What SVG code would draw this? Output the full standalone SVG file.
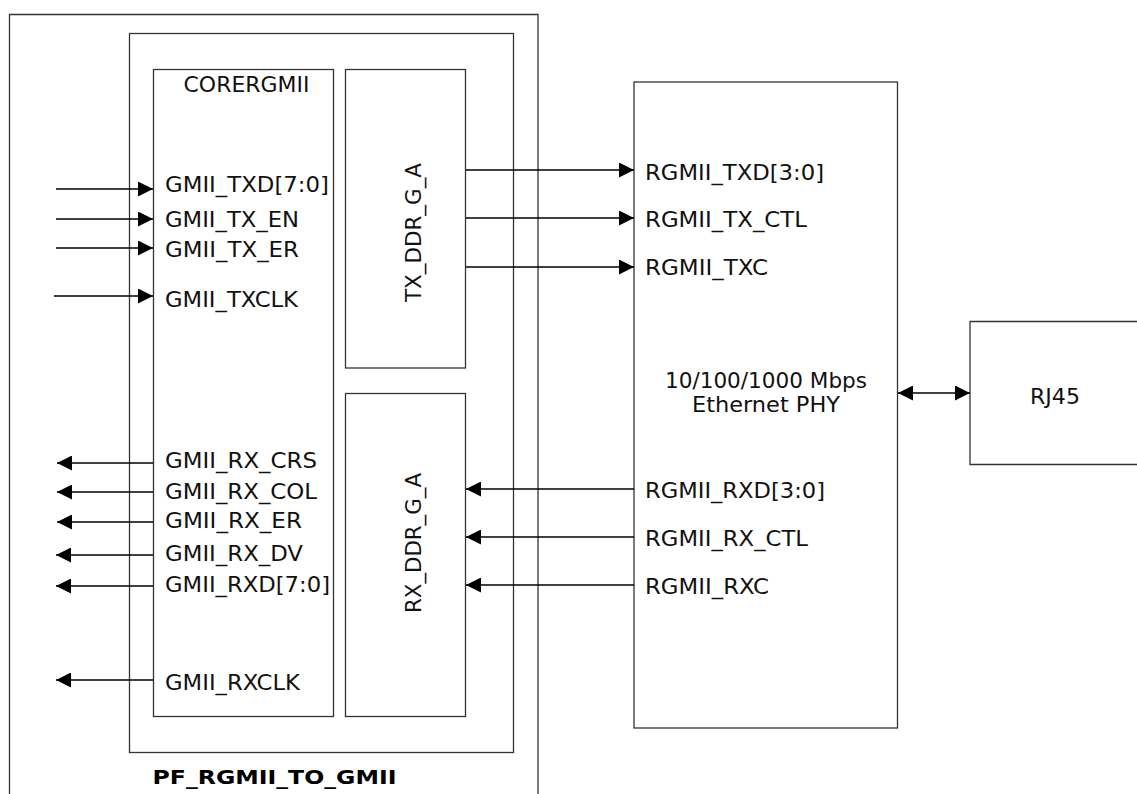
<svg xmlns="http://www.w3.org/2000/svg" width="1137" height="794" viewBox="0 0 1137 794">
<defs>
<style>
.box{fill:none;stroke:#333;stroke-width:1.3}
.wire{fill:none;stroke:#000;stroke-width:1.3}
.t{font-family:"DejaVu Sans","Liberation Sans",sans-serif;font-size:21px;fill:#111}
.tb{font-family:"DejaVu Sans","Liberation Sans",sans-serif;font-size:19px;font-weight:bold;fill:#000}
</style>
<marker id="ah" viewBox="0 0 15 15" refX="15" refY="7.5" markerWidth="15" markerHeight="15" markerUnits="userSpaceOnUse" orient="auto-start-reverse">
<path d="M0,0 L15,7.5 L0,15 z" fill="#000"/>
</marker>
</defs>
<rect width="1137" height="794" fill="#fff"/>

<g id="outer">
<path class="box" d="M9.5,800 V14.5 H538 V800"/>
</g>

<g id="pf_rgmii_to_gmii">
<rect class="box" x="129.5" y="33.5" width="384" height="719"/>
<text class="tb" x="152.5" y="784" textLength="244" lengthAdjust="spacingAndGlyphs">PF_RGMII_TO_GMII</text>
</g>

<g id="corergmii">
<rect class="box" x="153.5" y="69.5" width="180" height="647"/>
<text class="t" x="183.5" y="92" textLength="126" lengthAdjust="spacingAndGlyphs">CORERGMII</text>
<text class="t" x="165" y="191.5" textLength="164" lengthAdjust="spacingAndGlyphs">GMII_TXD[7:0]</text>
<text class="t" x="165" y="226.5" textLength="134" lengthAdjust="spacingAndGlyphs">GMII_TX_EN</text>
<text class="t" x="165" y="257" textLength="134" lengthAdjust="spacingAndGlyphs">GMII_TX_ER</text>
<text class="t" x="165" y="306.5" textLength="133" lengthAdjust="spacingAndGlyphs">GMII_TXCLK</text>
<text class="t" x="165" y="467.5" textLength="152" lengthAdjust="spacingAndGlyphs">GMII_RX_CRS</text>
<text class="t" x="165" y="498.5" textLength="152" lengthAdjust="spacingAndGlyphs">GMII_RX_COL</text>
<text class="t" x="165" y="527.5" textLength="137" lengthAdjust="spacingAndGlyphs">GMII_RX_ER</text>
<text class="t" x="165" y="560.5" textLength="138" lengthAdjust="spacingAndGlyphs">GMII_RX_DV</text>
<text class="t" x="165" y="591.5" textLength="165" lengthAdjust="spacingAndGlyphs">GMII_RXD[7:0]</text>
<text class="t" x="165" y="689.5" textLength="135" lengthAdjust="spacingAndGlyphs">GMII_RXCLK</text>
</g>

<g id="tx_ddr_g_a">
<rect class="box" x="345.5" y="69.5" width="120" height="298.5"/>
<text class="t" x="421" y="302" transform="rotate(-90 421 302)" textLength="139" lengthAdjust="spacingAndGlyphs">TX_DDR_G_A</text>
</g>

<g id="rx_ddr_g_a">
<rect class="box" x="345.5" y="393.5" width="120" height="323"/>
<text class="t" x="421" y="613" transform="rotate(-90 421 613)" textLength="140" lengthAdjust="spacingAndGlyphs">RX_DDR_G_A</text>
</g>

<g id="ethernet_phy">
<rect class="box" x="634" y="82" width="263.5" height="646"/>
<text class="t" x="645" y="179.5" textLength="179" lengthAdjust="spacingAndGlyphs">RGMII_TXD[3:0]</text>
<text class="t" x="645" y="226.5" textLength="162" lengthAdjust="spacingAndGlyphs">RGMII_TX_CTL</text>
<text class="t" x="645" y="275" textLength="123" lengthAdjust="spacingAndGlyphs">RGMII_TXC</text>
<text class="t" x="665" y="387.5" textLength="202" lengthAdjust="spacingAndGlyphs">10/100/1000 Mbps</text>
<text class="t" x="692" y="411.5" textLength="148" lengthAdjust="spacingAndGlyphs">Ethernet PHY</text>
<text class="t" x="645" y="497.5" textLength="180" lengthAdjust="spacingAndGlyphs">RGMII_RXD[3:0]</text>
<text class="t" x="645" y="545.5" textLength="163" lengthAdjust="spacingAndGlyphs">RGMII_RX_CTL</text>
<text class="t" x="645" y="593.5" textLength="124" lengthAdjust="spacingAndGlyphs">RGMII_RXC</text>
</g>

<g id="rj45">
<path class="box" d="M1145,321.5 H970 V464.5 H1145"/>
<text class="t" x="1030" y="403.5" textLength="50" lengthAdjust="spacingAndGlyphs">RJ45</text>
</g>

<g id="connectors">
<line class="wire" x1="56" y1="189" x2="153" y2="189" marker-end="url(#ah)"/>
<line class="wire" x1="56" y1="219" x2="153" y2="219" marker-end="url(#ah)"/>
<line class="wire" x1="56" y1="248" x2="153" y2="248" marker-end="url(#ah)"/>
<line class="wire" x1="54" y1="296" x2="153" y2="296" marker-end="url(#ah)"/>
<line class="wire" x1="153" y1="463" x2="57" y2="463" marker-end="url(#ah)"/>
<line class="wire" x1="153" y1="492" x2="57" y2="492" marker-end="url(#ah)"/>
<line class="wire" x1="153" y1="522" x2="57" y2="522" marker-end="url(#ah)"/>
<line class="wire" x1="153" y1="555" x2="56" y2="555" marker-end="url(#ah)"/>
<line class="wire" x1="153" y1="586" x2="56" y2="586" marker-end="url(#ah)"/>
<line class="wire" x1="153" y1="680" x2="56" y2="680" marker-end="url(#ah)"/>
<line class="wire" x1="466" y1="170" x2="634" y2="170" marker-end="url(#ah)"/>
<line class="wire" x1="466" y1="218" x2="634" y2="218" marker-end="url(#ah)"/>
<line class="wire" x1="466" y1="267" x2="634" y2="267" marker-end="url(#ah)"/>
<line class="wire" x1="634" y1="489" x2="466" y2="489" marker-end="url(#ah)"/>
<line class="wire" x1="634" y1="537" x2="466" y2="537" marker-end="url(#ah)"/>
<line class="wire" x1="634" y1="585" x2="466" y2="585" marker-end="url(#ah)"/>
<line class="wire" x1="898" y1="393" x2="970" y2="393" marker-start="url(#ah)" marker-end="url(#ah)"/>
</g>
</svg>
